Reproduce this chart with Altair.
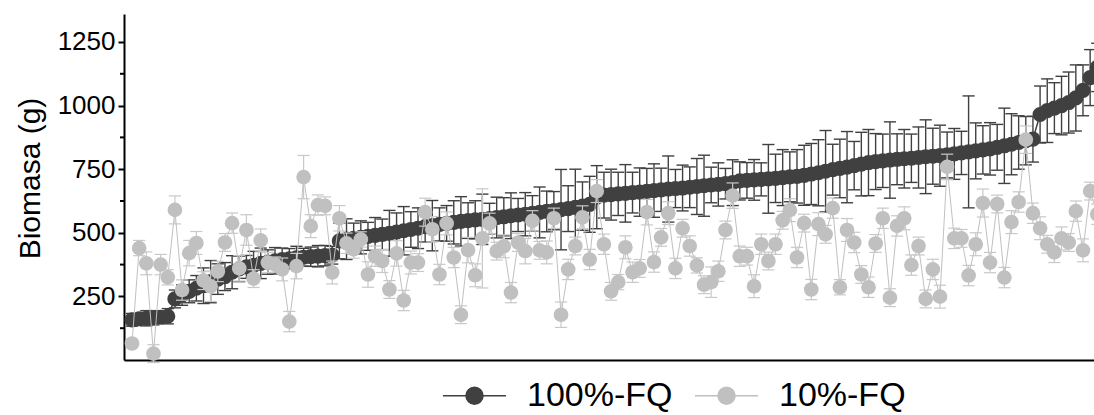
import altair as alt
import pandas as pd

series_names = ["100%-FQ", "10%-FQ"]

fq100 = [158, 162, 164, 166, 168, 172, 240, 255, 270, 282, 292, 308, 318, 328, 345, 358,
         366, 372, 380, 385, 390, 395, 398, 402, 404, 406, 408, 410, 412, 468, 475, 478,
         482, 486, 490, 494, 498, 503, 508, 513, 518, 524, 528, 533, 537, 541, 545, 548,
         551, 553, 556, 560, 563, 567, 570, 573, 576, 580, 584, 587, 591, 595, 600, 605,
         612, 640, 648, 650, 653, 655, 658, 660, 663, 666, 669, 672, 674, 676, 679, 682,
         685, 688, 690, 693, 697, 704, 706, 708, 710, 712, 714, 717, 720, 722, 726, 731,
         736, 742, 748, 753, 758, 764, 770, 776, 780, 783, 786, 789, 791, 793, 796, 799,
         801, 803, 806, 810, 814, 818, 822, 826, 830, 836, 842, 848, 855, 862, 868, 965,
         980, 990, 1000, 1012, 1030, 1060, 1110, 1150]

fq100_err = [25, 20, 30, 28, 22, 30,
             35, 40, 45, 50, 70, 83, 60, 55, 65, 50, 45, 55, 60, 48, 52, 45,
             40, 45, 35, 38, 42, 40, 35, 70, 80, 60, 65, 55, 70, 60, 90, 75, 95, 70, 80, 60, 99, 65, 70,
             85, 97, 70, 75, 99, 60, 80, 75, 90, 65, 85, 70, 100, 80, 75, 158, 90, 150, 95, 110,
             124, 90, 100, 85, 113, 80, 95, 90, 105, 85, 130, 75, 90, 80, 110, 120, 70, 85, 60, 90, 75, 70, 80, 65, 135,
             95, 110, 98, 105, 118, 120, 130, 160, 100, 115, 140, 95, 125, 130, 110, 105, 150, 100, 115, 95, 120,
             145, 110, 120, 90, 100, 85, 220, 110, 95, 103, 90, 148, 120, 105, 95, 90, 112, 125, 100, 115, 120, 130, 100, 110, 95]

fq10 = [65, 440, 380, 25, 375, 325, 590, 275, 420, 460, 312, 290, 348, 462, 538, 360,
        511, 320, 470, 383, 375, 356, 151, 369, 719, 526, 609, 606, 344, 557, 459, 435,
        474, 336, 408, 389, 277, 419, 234, 383, 383, 581, 514, 336, 537, 403, 178, 432,
        333, 478, 537, 428, 447, 265, 462, 428, 547, 431, 423, 557, 178, 356, 448, 561,
        395, 664, 455, 270, 306, 443, 345, 360, 581, 385, 482, 577, 360, 518, 448, 372,
        296, 306, 349, 511, 646, 408, 408, 290, 455, 389, 455, 549, 589, 403, 538, 277,
        534, 494, 597, 286, 511, 462, 336, 286, 458, 557, 245, 527, 557, 373, 448, 240,
        356, 249, 759, 478, 478, 332, 455, 617, 383, 613, 324, 542, 621, 866, 577, 518,
        455, 423, 478, 462, 585, 431, 664, 573]

fq10_err = [15, 30, 45, 35, 40, 30, 55, 40, 50, 45, 35, 60, 40, 35, 40, 50, 60, 35, 45, 40, 30, 45,
            40, 50, 85, 45, 40, 35, 45, 50, 40, 35, 30, 50, 40, 45, 35, 50, 40, 45, 35, 55, 50, 40, 45,
            40, 35, 50, 45, 195, 40, 35, 45, 40, 35, 50, 40, 35, 45, 40, 50, 40, 35, 45, 40,
            45, 40, 35, 30, 45, 40, 35, 50, 40, 35, 45, 40, 35, 40, 30, 35, 60, 40, 35, 50, 40, 35, 45, 40, 35,
            40, 35, 45, 40, 35, 40, 45, 35, 40, 30, 45, 40, 35, 40, 35, 40, 35, 40, 45, 40, 35,
            35, 40, 45, 50, 40, 35, 40, 45, 55, 40, 35, 40, 45, 40, 54, 40, 45, 35, 40, 45, 35, 40, 45, 35, 40]

y_major = [250, 500, 750, 1000, 1250]
y_minor = [125, 375, 625, 875, 1125]

rows = []
for i, (v, e) in enumerate(zip(fq100, fq100_err)):
    rows.append({"idx": i, "serie": series_names[0], "biomasa": v, "err": e})
for i, (v, e) in enumerate(zip(fq10, fq10_err)):
    rows.append({"idx": i, "serie": series_names[1], "biomasa": v, "err": e})
df = pd.DataFrame(rows)

DARK = "#404040"
LIGHT = "#c0c0c0"
FONT = "Liberation Sans"
X_MIN, X_MAX = -1.12, 134.54

xscale = alt.Scale(domain=[X_MIN, X_MAX], nice=False, zero=False)
yscale = alt.Scale(domain=[0, 1360], nice=False, zero=False)
cscale = alt.Scale(domain=series_names, range=[DARK, LIGHT])

x_axis = alt.Axis(labels=False, ticks=False, title=None, grid=False,
                  domainColor="black", domainWidth=2)
y_axis = alt.Axis(values=y_major, format="d", title="Biomasa (g)", grid=False,
                  tickSize=6, tickWidth=2, tickColor="black",
                  domainColor="black", domainWidth=2,
                  labelFontSize=26, labelFont=FONT, labelColor="black",
                  labelPadding=3, titleFontSize=30, titleFont=FONT,
                  titleFontWeight="normal", titleColor="black", titlePadding=12,
                  titleY=164)


def X(field):
    return alt.X(field, type="quantitative", scale=xscale, axis=x_axis)


def Y(field):
    return alt.Y(field, type="quantitative", scale=yscale, axis=y_axis)


legend_path = "M-1,0H1M0.27,0A0.27,0.27,0,1,1,-0.27,0A0.27,0.27,0,1,1,0.27,0Z"

base = alt.Chart(df).transform_calculate(
    lo="datum.biomasa - datum.err",
    hi="datum.biomasa + datum.err",
    xl="datum.idx - 0.85",
    xr="datum.idx + 0.85",
)


def layers_for(name, color, bar_color, line_w, bar_w, pt_size, with_legend):
    b = base.transform_filter(alt.datum.serie == name)
    line = b.mark_line(color=color, strokeWidth=line_w).encode(x=X("idx"), y=Y("biomasa"))
    bars = b.mark_rule(color=bar_color, strokeWidth=bar_w).encode(
        x=X("idx"), y=Y("lo"), y2="hi:Q")
    cap_lo = b.mark_rule(color=bar_color, strokeWidth=bar_w).encode(
        x=X("xl"), x2="xr:Q", y=Y("lo"))
    cap_hi = b.mark_rule(color=bar_color, strokeWidth=bar_w).encode(
        x=X("xl"), x2="xr:Q", y=Y("hi"))
    if with_legend:
        leg = alt.Legend(title=None, orient="none", legendX=318, legendY=349,
                         direction="horizontal", symbolType=legend_path, symbolSize=3969,
                         symbolStrokeWidth=1.5, symbolOpacity=1, labelFontSize=34,
                         labelFont=FONT, labelColor="black", labelOffset=20,
                         columnPadding=19, padding=0, labelLimit=400,
                         symbolStrokeColor={"expr": "scale('color', datum.value)"})
    else:
        leg = None
    pts = b.mark_circle(size=pt_size, opacity=1).encode(
        x=X("idx"), y=Y("biomasa"),
        color=alt.Color("serie:N", scale=cscale, legend=leg))
    return [line, bars, cap_lo, cap_hi, pts]


minor_df = pd.DataFrame({"v": y_minor, "x0": [X_MIN] * len(y_minor)})
minor_ticks = alt.Chart(minor_df).mark_rule(
    color="black", strokeWidth=2, xOffset=-4, x2Offset=0
).encode(x=X("x0"), x2="x0:Q", y=Y("v"))

layers = ([minor_ticks]
          + layers_for(series_names[0], DARK, DARK, 1.5, 1.4, 230, True)
          + layers_for(series_names[1], LIGHT, "#c8c8c8", 1.0, 1.2, 215, False))

chart = alt.layer(*layers).properties(
    width=970, height=346,
    padding={"left": 124, "top": 14, "right": 0, "bottom": 55},
    autosize=alt.AutoSizeParams(type="none"),
    background="white",
).configure_view(stroke=None)

chart.save("out.html", embed_options={"renderer": "svg", "actions": False})
